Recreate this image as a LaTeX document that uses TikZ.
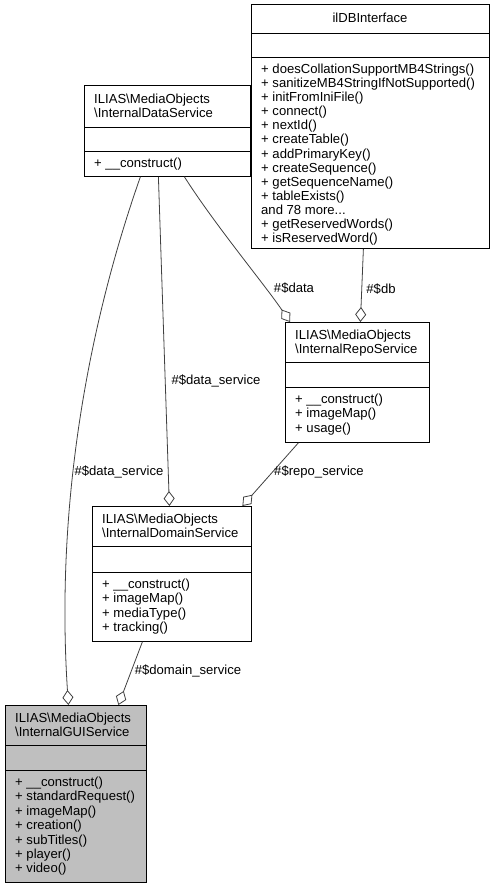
\documentclass[tikz,border=0pt]{standalone}
\usepackage{fontspec}
\setmainfont{Liberation Sans}
\usetikzlibrary{arrows.meta}
\newcommand\mydots{...}
\begin{document}
\begin{tikzpicture}[x=1pt,y=-1pt,
  box/.style={draw=black, line width=0.8pt, inner sep=0pt, anchor=north west},
  sep/.style={draw=black, line width=0.8pt},
  txt/.style={anchor=base west, inner sep=0pt, font=\fontsize{13.1}{14.4}\selectfont},
  ctxt/.style={anchor=base, inner sep=0pt, font=\fontsize{13.1}{14.4}\selectfont},
  edge/.style={draw=black!75, line width=0.8pt, -{Diamond[open,length=15pt,width=11pt]}},
  lbl/.style={inner sep=0pt, font=\fontsize{13.1}{14.4}\selectfont}]
\useasboundingbox (0,0) rectangle (493,889);

% ilDBInterface
\node[box, minimum width=238pt, minimum height=244pt] (db) at (251,4) {};
\draw[sep] (db.west |- 0,33) -- (db.east |- 0,33);
\draw[sep] (db.west |- 0,57) -- (db.east |- 0,57);
\node[ctxt] (dbt) at (370,22.4) {ilDBInterface};
\foreach \t [count=\i from 0] in {{+ doesCollationSupportMB4Strings()},{+ sanitizeMB4StringIfNotSupported()},{+ initFromIniFile()},{+ connect()},{+ nextId()},{+ createTable()},{+ addPrimaryKey()},{+ createSequence()},{+ getSequenceName()},{+ tableExists()},{and 78 more\mydots},{+ getReservedWords()},{+ isReservedWord()}}
  \node[txt] (dbm\i) at (261,{73.4+14.1*\i}) {\t};

% InternalDataService
\node[box, minimum width=166pt, minimum height=91pt] (data) at (84,85) {};
\draw[sep] (data.west |- 0,127) -- (data.east |- 0,127);
\draw[sep] (data.west |- 0,151) -- (data.east |- 0,151);
\node[txt] (datat1) at (94,103.15) {ILIAS\textbackslash MediaObjects};
\node[txt] (datat2) at (94,117.65) {\textbackslash InternalDataService};
\node[txt] (datam1) at (94,167.4) {+ \_\_construct()};

% InternalRepoService
\node[box, minimum width=144pt, minimum height=120pt] (repo) at (285,322) {};
\draw[sep] (repo.west |- 0,362) -- (repo.east |- 0,362);
\draw[sep] (repo.west |- 0,387) -- (repo.east |- 0,387);
\node[txt] (repot1) at (295,339.15) {ILIAS\textbackslash MediaObjects};
\node[txt] (repot2) at (295,353.65) {\textbackslash InternalRepoService};
\foreach \t [count=\i from 0] in {{+ \_\_construct()},{+ imageMap()},{+ usage()}}
  \node[txt] (repom\i) at (295,{403.4+14.4*\i}) {\t};

% InternalDomainService
\node[box, minimum width=159pt, minimum height=135pt] (dom) at (92,506) {};
\draw[sep] (dom.west |- 0,546) -- (dom.east |- 0,546);
\draw[sep] (dom.west |- 0,572) -- (dom.east |- 0,572);
\node[txt] (domt1) at (102,523.15) {ILIAS\textbackslash MediaObjects};
\node[txt] (domt2) at (102,537.65) {\textbackslash InternalDomainService};
\foreach \t [count=\i from 0] in {{+ \_\_construct()},{+ imageMap()},{+ mediaType()},{+ tracking()}}
  \node[txt] (domm\i) at (102,{588.4+14.4*\i}) {\t};

% InternalGUIService
\node[box, fill=black!25, minimum width=141pt, minimum height=177pt] (gui) at (5,705) {};
\draw[sep] (gui.west |- 0,745) -- (gui.east |- 0,745);
\draw[sep] (gui.west |- 0,770) -- (gui.east |- 0,770);
\node[txt] (guit1) at (15,722.15) {ILIAS\textbackslash MediaObjects};
\node[txt] (guit2) at (15,736.65) {\textbackslash InternalGUIService};
\foreach \t [count=\i from 0] in {{+ \_\_construct()},{+ standardRequest()},{+ imageMap()},{+ creation()},{+ subTitles()},{+ player()},{+ video()}}
  \node[txt] (guim\i) at (15,{786.4+14.4*\i}) {\t};

% connectors
\draw[edge] ([xshift=-7pt]db.south) -- ([xshift=3pt]repo.north);
\draw[edge] ([xshift=17pt]data.south) .. controls (215,225) and (265,285) .. ([xshift=5pt]repo.north west);
\draw[edge] ([xshift=-9pt]data.south) -- ([xshift=-2.5pt]dom.north);
\draw[edge] ([xshift=-27pt]data.south) .. controls (90,320) and (55,500) .. ([xshift=-7.5pt]gui.north);
\draw[edge] ([xshift=-59pt]repo.south) -- ([xshift=70.5pt]dom.north);
\draw[edge] ([xshift=-29.5pt]dom.south) -- ([xshift=42.5pt]gui.north);

% labels
\node[lbl] (l1) at (381,289) {\#\$db};
\node[lbl] (l2) at (294,288) {\#\$data};
\node[lbl] (l3) at (216,381) {\#\$data\_service};
\node[lbl] (l4) at (119,472) {\#\$data\_service};
\node[lbl] (l5) at (319,472) {\#\$repo\_service};
\node[lbl] (l6) at (188,671) {\#\$domain\_service};
\end{tikzpicture}
\end{document}
